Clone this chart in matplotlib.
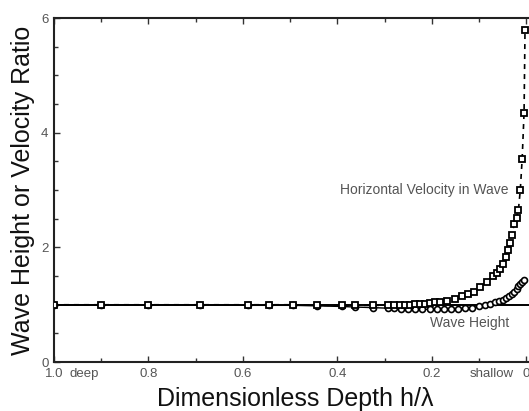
import matplotlib
matplotlib.use("Agg")
import matplotlib.pyplot as plt
from matplotlib.ticker import FixedLocator

plt.rcParams['font.family'] = ['Liberation Sans', 'DejaVu Sans']

# Horizontal velocity ratio (squares)
vel_x = [1.0, 0.9, 0.8, 0.69, 0.59, 0.545, 0.494, 0.443, 0.39, 0.363, 0.325, 0.293,
         0.28, 0.268, 0.257, 0.247, 0.236, 0.225, 0.214, 0.204, 0.193, 0.183, 0.168,
         0.151, 0.137, 0.124, 0.111, 0.098, 0.084, 0.071, 0.062, 0.056, 0.050, 0.043,
         0.039, 0.035, 0.031, 0.026, 0.021, 0.017, 0.013, 0.009, 0.005, 0.003]
vel_y = [1.0, 1.0, 1.0, 1.0, 1.0, 1.0, 1.0, 0.99, 0.99, 0.99, 0.99, 0.99,
         0.99, 1.0, 1.0, 1.0, 1.01, 1.01, 1.02, 1.03, 1.04, 1.05, 1.06,
         1.10, 1.15, 1.18, 1.22, 1.31, 1.40, 1.50, 1.56, 1.62, 1.71, 1.83,
         1.95, 2.08, 2.22, 2.40, 2.52, 2.65, 3.0, 3.55, 4.35, 5.79]

# Wave height ratio (circles)
wh_x = [1.0, 0.9, 0.8, 0.69, 0.59, 0.545, 0.494, 0.443, 0.39, 0.363, 0.325, 0.293,
        0.28, 0.265, 0.25, 0.235, 0.22, 0.205, 0.19, 0.175, 0.16, 0.145, 0.13,
        0.115, 0.10, 0.088, 0.077, 0.067, 0.058, 0.050, 0.043, 0.037, 0.031,
        0.026, 0.021, 0.017, 0.013, 0.009, 0.005]
wh_y = [1.0, 1.0, 1.0, 1.0, 0.99, 0.99, 0.99, 0.98, 0.97, 0.96, 0.95, 0.94,
        0.94, 0.93, 0.93, 0.92, 0.92, 0.92, 0.92, 0.92, 0.92, 0.93, 0.94,
        0.95, 0.97, 0.99, 1.01, 1.04, 1.06, 1.09, 1.12, 1.15, 1.19,
        1.23, 1.28, 1.32, 1.36, 1.40, 1.43]

x_ticks = [1.0, 0.8, 0.6, 0.4, 0.2, 0.0]
x_ticklabels = ["1.0", "0.8", "0.6", "0.4", "0.2", "0"]
x_minor = [0.9, 0.7, 0.5, 0.3, 0.1]
y_ticks = [0, 2, 4, 6]
y_minor = [0.5, 1, 1.5, 2.5, 3, 3.5, 4.5, 5, 5.5]

fig = plt.figure(figsize=(5.29, 4.11), dpi=100)
ax = fig.add_axes([0.102, 0.119, 0.911, 0.837])

ax.axhline(1.0, color='black', lw=1.4, zorder=1)
ax.plot(wh_x, wh_y, '-', color='black', lw=1.0, marker='o', ms=4.3,
        mfc='white', mec='black', mew=1.2, zorder=2)
ax.plot(vel_x, vel_y, '--', color='black', lw=1.2, dashes=(3, 3), marker='s', ms=5,
        mfc='white', mec='black', mew=1.3, zorder=3)

ax.set_xlim(1.0, -0.02)
ax.set_ylim(0, 6)
ax.set_xticks(x_ticks)
ax.set_xticklabels(x_ticklabels)
ax.xaxis.set_minor_locator(FixedLocator(x_minor))
ax.set_yticks(y_ticks)
ax.yaxis.set_minor_locator(FixedLocator(y_minor))

ax.tick_params(which='both', direction='in', top=True, right=False,
               labelsize=9.5, labelcolor='#555555', color='#333333', pad=4)
ax.tick_params(which='major', length=4, width=1)
ax.tick_params(which='minor', length=3, width=1)

for side in ['left', 'bottom', 'top']:
    ax.spines[side].set_linewidth(1.5)
    ax.spines[side].set_color('#222222')
ax.spines['right'].set_visible(False)

ax.set_xlabel('Dimensionless Depth h/λ', fontsize=18, color='#111111', labelpad=5)
ax.set_ylabel('Wave Height or Velocity Ratio', fontsize=18, color='#111111', labelpad=4)

for xpos, word in [(0.935, 'deep'), (0.073, 'shallow')]:
    ax.annotate(word, xy=(xpos, 0), xycoords=('data', 'axes fraction'),
                xytext=(0, -4), textcoords='offset points', ha='center', va='top',
                fontsize=9.5, color='#555555')
ax.text(0.039, 3.0, 'Horizontal Velocity in Wave', ha='right', va='center',
        fontsize=10, color='#555555')
ax.text(0.12, 0.68, 'Wave Height', ha='center', va='center',
        fontsize=10, color='#555555')

fig.savefig('out.png', dpi=100)
